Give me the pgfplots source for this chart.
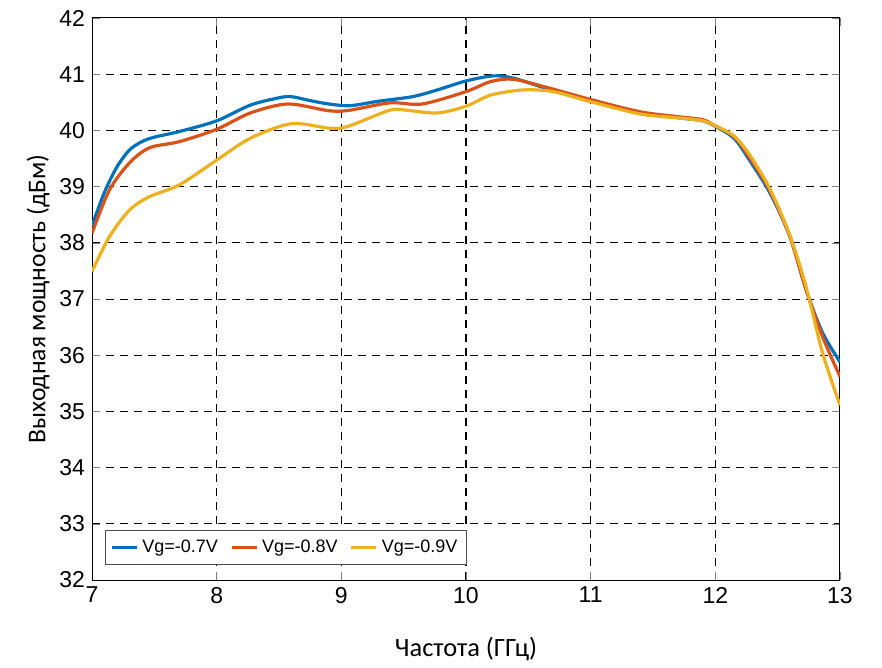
\documentclass[border=0pt]{standalone}
\usepackage{fontspec}
\setmainfont{Liberation Sans}
\newfontfamily\labelfont{Carlito}
\usepackage{pgfplots}
\pgfplotsset{compat=1.18}
\definecolor{mblue}{RGB}{0,114,189}
\definecolor{mred}{RGB}{217,83,25}
\definecolor{myellow}{RGB}{237,177,32}
\begin{document}
\begin{tikzpicture}
\begin{axis}[
  name=ax,
  scale only axis,
  width=374pt, height=281pt,
  xmin=7, xmax=13, ymin=32, ymax=42,
  xtick={7,8,...,13}, ytick={32,33,...,42},
  /pgf/number format/assume math mode=true,
  tick label style={font=\fontsize{11.5}{13}\selectfont},
  tick align=inside,
  major tick length=4pt,
  grid=major,
  major grid style={dashed, black, line width=0.5pt, dash pattern=on 4pt off 3pt},
  axis line style={black, line width=0.5pt},
  xlabel={\labelfont\fontsize{13.2}{15}\selectfont Частота (ГГц)},
  ylabel={\labelfont\fontsize{12.8}{15}\selectfont Выходная мощность (дБм)},
  xlabel style={yshift=-10pt},
  ylabel style={yshift=-2pt},
  legend columns=3,
  legend style={at={(0.017,0.027)}, anchor=south west, font=\fontsize{9}{11}\selectfont,
    draw=black!70, line width=0.5pt, inner sep=2.5pt,
    /tikz/every even column/.append style={column sep=4pt}},
  legend image code/.code={\draw[#1,line width=1.6pt] (0pt,0pt) -- (12.5pt,0pt);},
  legend cell align=left,
  every axis plot/.append style={line width=1.6pt, smooth, no markers},
]
\addplot[mblue] coordinates {
(7.0,38.30) (7.1,38.90) (7.2,39.35) (7.3,39.65) (7.4,39.80) (7.5,39.88) (7.7,39.98)
(8.0,40.17) (8.27,40.45) (8.5,40.58) (8.6,40.60) (8.75,40.53) (8.9,40.47) (9.07,40.44)
(9.3,40.52) (9.57,40.60) (9.77,40.72) (10.0,40.88) (10.22,40.97) (10.38,40.93)
(10.64,40.75) (11.0,40.52) (11.4,40.31) (11.72,40.22) (11.9,40.17) (12.0,40.07)
(12.15,39.86) (12.28,39.45) (12.44,38.88) (12.6,38.10) (12.73,37.15) (12.86,36.40) (13.0,35.88)
};
\addlegendentry{Vg=-0.7V}
\addplot[mred] coordinates {
(7.0,38.17) (7.14,38.94) (7.3,39.42) (7.46,39.69) (7.7,39.80) (8.0,40.02) (8.27,40.31)
(8.57,40.47) (8.9,40.35) (9.07,40.36) (9.39,40.49) (9.65,40.47) (10.0,40.69) (10.2,40.87)
(10.38,40.91) (10.64,40.77) (11.0,40.55) (11.4,40.33) (11.72,40.24) (11.9,40.19)
(12.0,40.08) (12.15,39.89) (12.28,39.50) (12.44,38.92) (12.6,38.10) (12.73,37.15)
(12.86,36.33) (13.0,35.62)
};
\addlegendentry{Vg=-0.8V}
\addplot[myellow] coordinates {
(7.0,37.49) (7.14,38.11) (7.3,38.58) (7.46,38.82) (7.7,39.03) (8.0,39.47) (8.27,39.86)
(8.6,40.12) (8.9,40.04) (9.05,40.07) (9.39,40.36) (9.52,40.36) (9.77,40.31) (10.0,40.43)
(10.2,40.63) (10.46,40.72) (10.7,40.69) (11.0,40.51) (11.4,40.29) (11.72,40.22)
(11.9,40.17) (12.0,40.08) (12.15,39.90) (12.28,39.55) (12.44,38.95) (12.6,38.12)
(12.73,37.20) (12.86,36.04) (13.0,35.11)
};
\addlegendentry{Vg=-0.9V}
\end{axis}
\path[use as bounding box] ([xshift=-46pt,yshift=-41pt]ax.south west) rectangle ([xshift=21pt,yshift=9pt]ax.north east);
\end{tikzpicture}
\end{document}
